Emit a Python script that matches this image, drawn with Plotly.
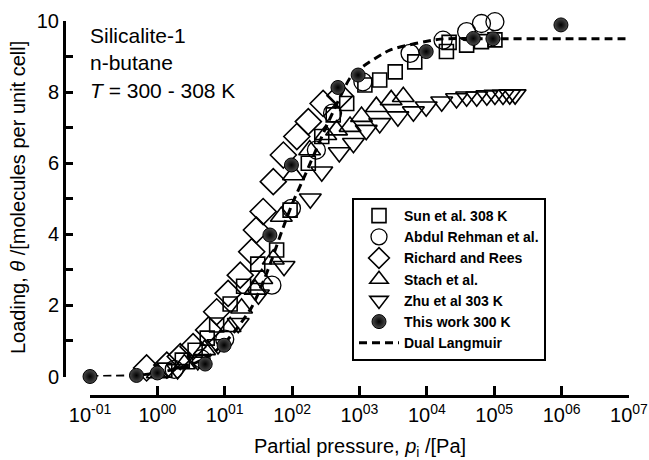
import numpy as np
import plotly.graph_objects as go

# ---------------- data (log10 of partial pressure in Pa, loading in molecules/uc) ----
sun_logp = [0.11, 0.37, 0.56, 0.74, 0.88, 1.08, 1.28, 1.49, 1.77, 1.97, 2.24, 2.44,
            2.61, 2.81, 3.08, 3.30, 3.53, 3.82, 4.29, 4.33, 4.59, 4.81, 5.01]
sun_theta = [0.18, 0.46, 0.74, 1.08, 1.45, 2.04, 2.54, 3.16, 3.56, 4.68, 6.00, 6.75,
             7.36, 7.68, 8.20, 8.34, 8.57, 8.85, 9.14, 9.40, 9.32, 9.42, 9.47]

abdul_logp = [0.25, 0.65, 1.00, 1.70, 1.99, 2.36, 2.60, 3.05, 3.75, 4.24, 4.59, 4.81,
              5.01, 5.08]
abdul_theta = [0.20, 0.50, 1.05, 2.57, 4.73, 6.37, 7.41, 8.29, 9.09, 9.46, 9.70, 9.93,
               9.98, 10.08]

richard_logp = [-0.16, 0.14, 0.34, 0.53, 0.76, 0.88, 1.05, 1.23, 1.40, 1.47, 1.57,
                1.72, 1.87, 2.07, 2.24, 2.46, 2.71]
richard_theta = [0.24, 0.32, 0.56, 0.84, 1.31, 1.82, 2.34, 2.85, 3.51, 4.12, 4.64,
                 5.48, 6.23, 6.75, 7.17, 7.68, 7.90]

stach_logp = [0.00, 0.40, 0.70, 1.08, 1.25, 1.45, 1.55, 1.72, 1.84, 2.02, 2.26, 2.50,
              2.66, 2.86, 3.03, 3.25, 3.47, 3.65]
stach_theta = [0.10, 0.35, 0.75, 1.40, 1.92, 2.45, 2.75, 3.30, 4.50, 5.67, 6.37, 6.80,
               6.93, 7.03, 7.31, 7.59, 7.78, 7.87]

zhu_logp = [0.30, 0.60, 0.90, 1.20, 1.50, 1.88, 2.27, 2.44, 2.70, 2.91, 3.10, 3.30,
            3.57, 3.80, 3.99, 4.22, 4.44, 4.59, 4.74, 4.89, 5.01, 5.13, 5.23, 5.31]
zhu_theta = [0.20, 0.45, 0.90, 1.50, 2.30, 3.10, 5.00, 5.76, 6.30, 6.56, 6.93, 7.12,
             7.31, 7.45, 7.59, 7.73, 7.82, 7.87, 7.87, 7.90, 7.92, 7.92, 7.93, 7.93]

work_logp = [-1.00, -0.31, 0.00, 0.71, 0.99, 1.67, 1.99, 2.68, 2.98, 3.99, 4.69, 4.98, 5.99]
work_theta = [0.00, 0.03, 0.10, 0.35, 0.88, 3.98, 5.95, 8.13, 8.48, 9.14, 9.51, 9.50, 9.89]

dl_logp = [-1.0, -0.4, 0.0, 0.5, 0.8, 1.0, 1.2, 1.4, 1.5, 1.6, 1.7, 1.85, 2.0, 2.2,
           2.5, 2.86, 3.0, 3.45, 4.2, 5.0, 6.0, 7.0]
dl_theta = [0.0, 0.02, 0.10, 0.33, 0.62, 0.95, 1.40, 1.95, 2.35, 2.80, 3.30, 4.10,
            4.85, 5.70, 7.00, 8.40, 8.65, 9.18, 9.49, 9.50, 9.50, 9.50]

x_tickvals = [0.1, 1, 10, 100, 1e3, 1e4, 1e5, 1e6, 1e7]
x_ticktext = ["10<sup>-01</sup>", "10<sup>00</sup>", "10<sup>01</sup>", "10<sup>02</sup>",
              "10<sup>03</sup>", "10<sup>04</sup>", "10<sup>05</sup>", "10<sup>06</sup>",
              "10<sup>07</sup>"]
y_tickvals = list(range(0, 11))
y_ticktext = ["0", "", "2", "", "4", "", "6", "", "8", "", "10"]

FONT = "Liberation Sans, Arial, Helvetica, sans-serif"
W, H = 649, 460


def pa(logs):
    return (10.0 ** np.array(logs)).tolist()


fig = go.Figure()

fig.add_trace(go.Scatter(
    x=pa(dl_logp), y=dl_theta, mode="lines", name="Dual Langmuir",
    line=dict(color="black", width=3, dash="8px,5px", shape="spline", smoothing=0.6),
    legendrank=7, cliponaxis=False))

open_kw = dict(mode="markers", cliponaxis=False)
fig.add_trace(go.Scatter(
    x=pa(sun_logp), y=sun_theta, name="Sun et al. 308 K", legendrank=1,
    marker=dict(symbol="square-open", size=14, color="black", line=dict(width=1.6)),
    **open_kw))
fig.add_trace(go.Scatter(
    x=pa(abdul_logp), y=abdul_theta, name="Abdul Rehman et al.", legendrank=2,
    marker=dict(symbol="circle-open", size=18, color="black", line=dict(width=1.3)),
    **open_kw))
fig.add_trace(go.Scatter(
    x=pa(richard_logp), y=richard_theta, name="Richard and Rees", legendrank=3,
    marker=dict(symbol="diamond-open", size=20, color="black", line=dict(width=1.6)),
    **open_kw))
fig.add_trace(go.Scatter(
    x=pa(stach_logp), y=stach_theta, name="Stach et al.", legendrank=4,
    marker=dict(symbol="triangle-up-open", size=19, color="black", line=dict(width=1.6)),
    **open_kw))
fig.add_trace(go.Scatter(
    x=pa(zhu_logp), y=zhu_theta, name="Zhu et al 303 K", legendrank=5,
    marker=dict(symbol="triangle-down-open", size=19, color="black", line=dict(width=1.6)),
    **open_kw))
fig.add_trace(go.Scatter(
    x=pa(work_logp), y=work_theta, name="This work 300 K", legendrank=6,
    marker=dict(symbol="circle", size=14, color="#4a4a4a",
                gradient=dict(type="radial", color="black"),
                line=dict(width=1, color="black")),
    **open_kw))

xd0, xd1 = 90 / W, 629 / W
yd0, yd1 = 1 - 376.5 / H, 1 - 21 / H

fig.update_layout(
    width=W, height=H,
    margin=dict(l=0, r=0, t=0, b=0, autoexpand=False),
    paper_bgcolor="white", plot_bgcolor="white",
    font=dict(family=FONT, color="black"),
    showlegend=True,
    legend=dict(
        x=352 / W, y=1 - 198 / H, xanchor="left", yanchor="top",
        bgcolor="white", bordercolor="black", borderwidth=2,
        font=dict(family="Liberation Sans, Arial", size=14, weight="bold"),
        itemsizing="trace", itemwidth=40, tracegroupgap=0),
    xaxis=dict(
        type="log", range=[-1, 7], domain=[xd0, xd1],
        anchor="free", position=1 - 396 / H,
        showgrid=False, zeroline=False,
        showline=True, linecolor="black", linewidth=3,
        ticks="inside", ticklen=9, tickwidth=2.5, tickcolor="black",
        tickvals=x_tickvals, ticktext=x_ticktext,
        tickfont=dict(size=20, family=FONT)),
    yaxis=dict(
        range=[0, 10], domain=[yd0, yd1],
        anchor="free", position=64 / W,
        showgrid=False, zeroline=False,
        showline=True, linecolor="black", linewidth=3,
        ticks="inside", ticklen=7, tickwidth=2.5, tickcolor="black",
        tickvals=y_tickvals, ticktext=y_ticktext,
        tickfont=dict(size=20, family=FONT)),
)

fig.add_annotation(
    x=88 / W, y=1 - 63 / H, xref="paper", yref="paper",
    xanchor="left", yanchor="middle", align="left", showarrow=False,
    text="Silicalite-1<br>n-butane<br><i>T</i> = 300 - 308 K",
    font=dict(size=21, family=FONT))
fig.add_annotation(
    x=360 / W, y=1 - 447 / H, xref="paper", yref="paper",
    xanchor="center", yanchor="middle", showarrow=False,
    text="Partial pressure, <i>p</i><sub>i</sub> /[Pa]",
    font=dict(size=20, family=FONT))
fig.add_annotation(
    x=18 / W, y=1 - 198 / H, xref="paper", yref="paper",
    xanchor="center", yanchor="middle", showarrow=False, textangle=-90,
    text="Loading, <i>θ</i> /[molecules per unit cell]",
    font=dict(size=20, family=FONT))

fig.write_html("out.html")
